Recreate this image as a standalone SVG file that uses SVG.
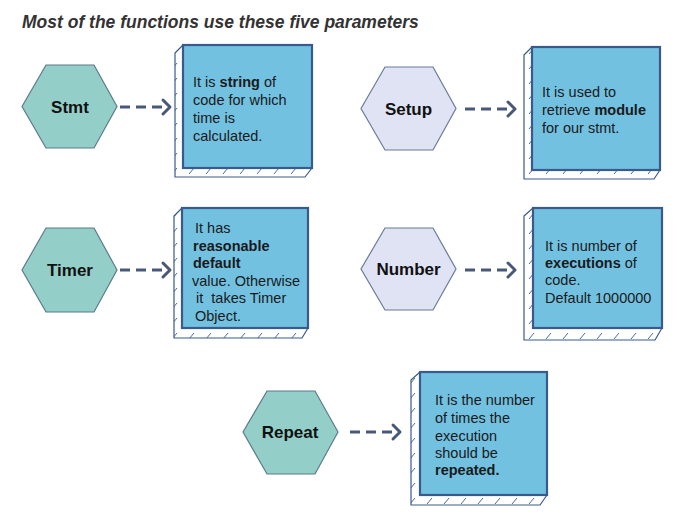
<svg xmlns="http://www.w3.org/2000/svg" width="677" height="519" viewBox="0 0 677 519">
<defs>
<style>
.title{font-family:"Liberation Sans",Arial,sans-serif;font-size:17.5px;font-weight:bold;font-style:italic;fill:#333}
.hexT{fill:#93cfc8;stroke:#5b7b88;stroke-width:1.2}
.hexL{fill:#dfe3f4;stroke:#6b7a99;stroke-width:1.2}
.lbl{font-family:"Liberation Sans",Arial,sans-serif;font-size:17px;font-weight:bold;fill:#111;text-anchor:middle}
.face{fill:#72c1e1;stroke:#3a5a8c;stroke-width:2.2}
.side{fill:url(#hatch);stroke:#3a5a8c;stroke-width:1.2;stroke-linejoin:round}
.txt{font-family:"Liberation Sans",Arial,sans-serif;font-size:14.5px;fill:#1a1a1a}
.b{font-weight:bold}
.conn{fill:none;stroke:#4a5878;stroke-width:3;stroke-dasharray:10 6}
.head{fill:none;stroke:#4a5878;stroke-width:3;stroke-linecap:round;stroke-linejoin:round}
</style>
<pattern id="hatch" patternUnits="userSpaceOnUse" width="17" height="15">
<rect width="17" height="15" fill="#fff"/>
<path d="M2,9 L7,3" stroke="#3a5a8c" stroke-width="0.9"/>
</pattern>
</defs>
<rect width="677" height="519" fill="#fff"/>
<text class="title" x="22" y="28">Most of the functions use these five parameters</text>

<g id="connectors">
<path class="conn" d="M120,107 H164"/><path class="head" d="M163,100 L170,107 L163,114"/>
<path class="conn" d="M465,109 H509"/><path class="head" d="M508,102 L515,109 L508,116"/>
<path class="conn" d="M120,270 H164"/><path class="head" d="M163,263 L170,270 L163,277"/>
<path class="conn" d="M465,270 H509"/><path class="head" d="M508,263 L515,270 L508,277"/>
<path class="conn" d="M350,432 H394"/><path class="head" d="M393,425 L400,432 L393,439"/>
</g>

<g id="stmt">
<polygon class="hexT" points="22,106.5 46,65 94,65 117,106.5 94,148 46,148"/>
<text class="lbl" x="70" y="113">Stmt</text>
</g>
<g id="stmt-desc">
<polygon class="side" points="183,45 175,53 175,177 305,177 312,168 183,168"/>
<rect class="face" x="183" y="45" width="129" height="123"/>
<text class="txt" x="193" y="87">It is <tspan class="b">string</tspan> of</text>
<text class="txt" x="193" y="105">code for which</text>
<text class="txt" x="193" y="123">time is</text>
<text class="txt" x="193" y="141">calculated.</text>
</g>

<g id="setup">
<polygon class="hexL" points="361,108.5 385,67 433,67 456,108.5 433,150 385,150"/>
<text class="lbl" x="408.5" y="115">Setup</text>
</g>
<g id="setup-desc">
<polygon class="side" points="532,47 524,55 524,179 654,179 660,170 532,170"/>
<rect class="face" x="532" y="47" width="128" height="123"/>
<text class="txt" x="542" y="97">It is used to</text>
<text class="txt" x="542" y="115">retrieve <tspan class="b">module</tspan></text>
<text class="txt" x="542" y="133">for our stmt.</text>
</g>

<g id="timer">
<polygon class="hexT" points="22,270 46,228 94,228 117,270 94,312 46,312"/>
<text class="lbl" x="70" y="276">Timer</text>
</g>
<g id="timer-desc">
<polygon class="side" points="182,208 174,216 174,338 302,338 308,328 182,328"/>
<rect class="face" x="182" y="208" width="126" height="120"/>
<text class="txt" x="195" y="233">It has</text>
<text class="txt b" x="193" y="251">reasonable</text>
<text class="txt b" x="193" y="268">default</text>
<text class="txt" x="192" y="286">value. Otherwise</text>
<text class="txt" x="196" y="303">it&#160; takes Timer</text>
<text class="txt" x="195" y="321">Object.</text>
</g>

<g id="number">
<polygon class="hexL" points="361,269 385,228 433,228 456,269 433,310 385,310"/>
<text class="lbl" x="408.5" y="275">Number</text>
</g>
<g id="number-desc">
<polygon class="side" points="533,208 524,216 524,340 655,340 662,328 533,328"/>
<rect class="face" x="533" y="208" width="129" height="120"/>
<text class="txt" x="545" y="251">It is number of</text>
<text class="txt" x="545" y="268"><tspan class="b">executions</tspan> of</text>
<text class="txt" x="545" y="285">code.</text>
<text class="txt" x="545" y="303">Default 1000000</text>
</g>

<g id="repeat">
<polygon class="hexT" points="243,432 267,391 315,391 338,432 315,474 267,474"/>
<text class="lbl" x="290" y="438">Repeat</text>
</g>
<g id="repeat-desc">
<polygon class="side" points="420,372 411,380 411,505 540,505 547,495 420,495"/>
<rect class="face" x="420" y="372" width="127" height="123"/>
<text class="txt" x="435" y="405">It is the number</text>
<text class="txt" x="435" y="423">of times the</text>
<text class="txt" x="435" y="441">execution</text>
<text class="txt" x="435" y="458">should be</text>
<text class="txt b" x="435" y="475">repeated.</text>
</g>
</svg>
